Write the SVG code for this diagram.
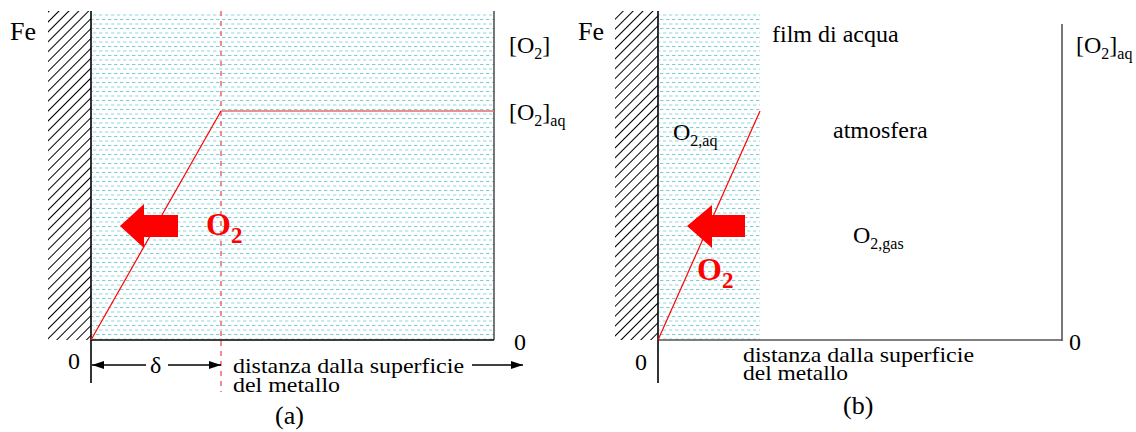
<svg xmlns="http://www.w3.org/2000/svg" width="1136" height="432" viewBox="0 0 1136 432">
<defs>
<pattern id="hatch" patternUnits="userSpaceOnUse" width="7" height="7" patternTransform="rotate(45)">
<line x1="0" y1="-1" x2="0" y2="8" stroke="#000" stroke-width="1.4" shape-rendering="crispEdges"/>
</pattern>
<pattern id="water" patternUnits="userSpaceOnUse" width="6" height="9">
<line x1="0" y1="1.5" x2="3.4" y2="1.5" stroke="#7fcdd5" stroke-width="1.1"/>
<line x1="3" y1="6" x2="6.4" y2="6" stroke="#9bd9df" stroke-width="1.1"/>
<line x1="-3" y1="6" x2="0.4" y2="6" stroke="#9bd9df" stroke-width="1.1"/>
</pattern>
<marker id="ah" viewBox="0 0 12 8" refX="12" refY="4" markerWidth="12" markerHeight="8" markerUnits="userSpaceOnUse" orient="auto-start-reverse">
<path d="M0,0 L12,4 L0,8 Z" fill="#000"/>
</marker>
<style>
text{font-family:"Liberation Serif","Times New Roman",serif;fill:#000;font-size:24px}
.fe{font-size:26px}
.cap{font-size:22px}
.lab{font-size:26px}
.sub{font-size:16px}
.red{fill:#ff0000;font-weight:bold;font-size:32px}
.redsub{font-size:23px}
.axis{stroke:#000;stroke-width:1.6;fill:none}
.gaxis{stroke:#555;stroke-width:1.6;fill:none}
</style>
</defs>

<g id="panel-a">
<rect id="fe-a" x="48" y="11" width="43" height="329" fill="url(#hatch)"/>
<rect id="water-a" x="92" y="11" width="402" height="329" fill="url(#water)"/>
<line class="gaxis" x1="494" y1="11" x2="494" y2="340"/>
<line class="axis" x1="91" y1="340" x2="494" y2="340"/>
<line class="axis" x1="91" y1="11" x2="91" y2="383"/>
<line x1="221" y1="11" x2="221" y2="392" stroke="#f07272" stroke-width="1.6" stroke-dasharray="5,5"/>
<polyline points="91,340 221,111" fill="none" stroke="#ff0000" stroke-width="1.2"/>
<line x1="221" y1="111" x2="494" y2="111" stroke="#e86a6a" stroke-width="1.6"/>
<path id="arrow-a" d="M120,226 L144,204 L144,215 L178,215 L178,237 L144,237 L144,248 Z" fill="#ff0000"/>
<text class="fe" x="10" y="40">Fe</text>
<text x="509" y="53">[O<tspan class="sub" dy="6">2</tspan><tspan dy="-6">]</tspan></text>
<text x="509" y="120">[O<tspan class="sub" dy="6">2</tspan><tspan dy="-6">]</tspan><tspan class="sub" dy="6">aq</tspan></text>
<text class="red" x="206" y="235">O<tspan class="redsub" dy="8">2</tspan></text>
<text x="68" y="369">0</text>
<text x="514" y="350">0</text>
<line class="axis" x1="92" y1="365" x2="146" y2="365" stroke-width="1.3" marker-start="url(#ah)"/>
<line class="axis" x1="168" y1="365" x2="221" y2="365" stroke-width="1.3" marker-end="url(#ah)"/>
<text x="150" y="373">δ</text>
<text class="cap" x="233" y="373" textLength="231" lengthAdjust="spacingAndGlyphs">distanza dalla superficie</text>
<text class="cap" x="233" y="392" textLength="107" lengthAdjust="spacingAndGlyphs">del metallo</text>
<line class="axis" x1="472" y1="365" x2="523" y2="365" stroke-width="1.3" marker-end="url(#ah)"/>
<text class="lab" x="275" y="424">(a)</text>
</g>

<g id="panel-b">
<rect id="fe-b" x="615" y="11" width="43" height="329" fill="url(#hatch)"/>
<rect id="water-b" x="659" y="11" width="101" height="329" fill="url(#water)"/>
<line class="gaxis" x1="658" y1="340" x2="1062" y2="340"/>
<line class="gaxis" x1="1062" y1="24" x2="1062" y2="341"/>
<line class="axis" x1="658" y1="11" x2="658" y2="383"/>
<line x1="658" y1="340" x2="760" y2="111" stroke="#ff0000" stroke-width="1.2"/>
<path id="arrow-b" d="M687,226 L712,205 L712,215 L745,215 L745,237 L712,237 L712,248 Z" fill="#ff0000"/>
<text class="fe" x="578" y="40">Fe</text>
<text x="772" y="42">film di acqua</text>
<text x="833" y="138">atmosfera</text>
<text x="673" y="140">O<tspan class="sub" dy="6">2,aq</tspan></text>
<text x="853" y="243">O<tspan class="sub" dy="6">2,gas</tspan></text>
<text class="red" x="697" y="280">O<tspan class="redsub" dy="8">2</tspan></text>
<text x="1076" y="53">[O<tspan class="sub" dy="6">2</tspan><tspan dy="-6">]</tspan><tspan class="sub" dy="6">aq</tspan></text>
<text x="1069" y="350">0</text>
<text x="635" y="370">0</text>
<text class="cap" x="743" y="362" textLength="231" lengthAdjust="spacingAndGlyphs">distanza dalla superficie</text>
<text class="cap" x="743" y="380" textLength="105" lengthAdjust="spacingAndGlyphs">del metallo</text>
<text class="lab" x="843" y="414">(b)</text>
</g>
</svg>
